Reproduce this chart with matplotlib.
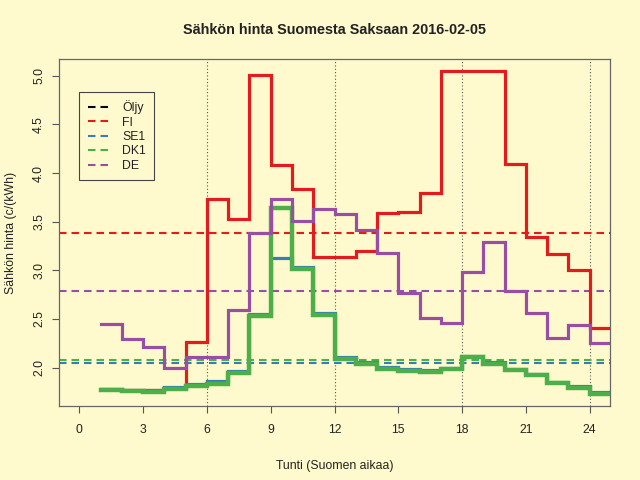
"""Sähkön hinta Suomesta Saksaan 2016-02-05, step chart"""

import numpy as np
import matplotlib
matplotlib.use("Agg")
import matplotlib.pyplot as plt

# section: data
hours = np.arange(1, 25)
fi = [1.78, 1.77, 1.77, 1.79, 2.26, 3.73, 3.53, 5.01, 4.08, 3.84, 3.14, 3.14,
      3.20, 3.59, 3.60, 3.80, 5.05, 5.05, 5.05, 4.09, 3.34, 3.17, 3.00, 2.41]
se1 = [1.784, 1.774, 1.77, 1.805, 1.832, 1.86, 1.966, 2.55, 3.125, 3.036, 2.566, 2.11,
       2.055, 2.004, 1.987, 1.98, 2.00, 2.125, 2.055, 1.987, 1.93, 1.856, 1.81, 1.753]
dk1 = [1.77, 1.757, 1.753, 1.784, 1.81, 1.835, 1.945, 2.53, 3.64, 3.015, 2.545, 2.09,
       2.04, 1.987, 1.97, 1.96, 1.987, 2.105, 2.04, 1.973, 1.92, 1.84, 1.79, 1.73]
de = [2.45, 2.29, 2.21, 2.00, 2.11, 2.11, 2.59, 3.38, 3.73, 3.51, 3.63, 3.58,
      3.42, 3.18, 2.77, 2.51, 2.46, 2.98, 3.29, 2.79, 2.56, 2.30, 2.44, 2.25]
# daily averages (dashed lines)
mean_fi = 3.383
mean_se1 = 2.051
mean_dk1 = 2.079
mean_de = 2.789

legend_labels = ["Öljy", "FI", "SE1", "DK1", "DE"]
xticks = list(range(0, 25, 3))
yticks = [2.0, 2.5, 3.0, 3.5, 4.0, 4.5, 5.0]

BG = "#FFFACD"
COLORS = {"Öljy": "black", "FI": "#E41A1C", "SE1": "#377EB8",
          "DK1": "#4DAF4A", "DE": "#984EA3"}


def main():
    plt.rcParams["font.family"] = ["Liberation Sans", "DejaVu Sans"]
    fig = plt.figure(figsize=(6.4, 4.8), dpi=100, facecolor=BG)
    ax = fig.add_axes([59 / 640, 74 / 480, 551 / 640, 347 / 480], facecolor=BG)

    # section: guides
    for h in (6, 12, 18, 24):
        ax.axvline(h, color="#555555", lw=0.8, ls=(0, (1, 2)), zorder=1)

    dash = (0, (3.6, 2.4))
    for name, m in (("FI", mean_fi), ("SE1", mean_se1), ("DK1", mean_dk1), ("DE", mean_de)):
        ax.axhline(m, color=COLORS[name], lw=1.5, ls=dash, zorder=2)

    # section: step lines
    xs = np.append(hours, hours[-1] + 1)
    for name, vals, lw in (("FI", fi, 2.3), ("SE1", se1, 2.3), ("DK1", dk1, 3.2), ("DE", de, 2.3)):
        ys = np.append(vals, vals[-1])
        ax.step(xs, ys, where="post", color=COLORS[name], lw=lw, zorder=3,
                solid_joinstyle="miter")

    # section: axes
    ax.set_xlim(-0.96, 24.96)
    ax.set_ylim(1.606, 5.173)
    ax.set_xticks(xticks)
    ax.set_yticks(yticks)
    ax.set_yticklabels([f"{v:.1f}" for v in yticks], rotation=90, va="center")
    ax.tick_params(axis="both", length=5, width=0.8, color="#555555",
                   labelsize=8.8, labelcolor="#222222")
    ax.tick_params(axis="x", pad=8)
    ax.tick_params(axis="y", pad=5)
    for s in ax.spines.values():
        s.set_color("#666666")
        s.set_linewidth(0.9)

    ax.set_xlabel("Tunti (Suomen aikaa)", fontsize=8.8, color="#222222")
    ax.xaxis.set_label_coords(0.5, -0.173)
    ax.xaxis.label.set_va("center")
    ax.set_ylabel("Sähkön hinta (c/(kWh)", fontsize=8.8, color="#222222")
    ax.yaxis.set_label_coords(-0.088, 0.5)
    ax.yaxis.label.set_va("center")
    ax.yaxis.label.set_ha("center")

    fig.text(334.5 / 640, 1 - 29.5 / 480, "Sähkön hinta Suomesta Saksaan 2016-02-05",
             ha="center", va="center", fontsize=10.4, fontweight="bold", color="#222222")

    # section: legend
    handles = [plt.Line2D([], [], color=COLORS[n], lw=1.5, ls=dash) for n in legend_labels]
    leg = ax.legend(handles, legend_labels, loc="upper left", bbox_to_anchor=(0.037, 0.906),
                    borderaxespad=0, fontsize=8.8, fancybox=False, framealpha=1,
                    facecolor=BG, edgecolor="#444444", labelspacing=0.2,
                    handlelength=1.8, handletextpad=1.0, borderpad=0.7)
    leg.get_frame().set_linewidth(0.8)
    for t in leg.get_texts():
        t.set_color("#222222")

    fig.savefig("out.png", dpi=100, facecolor=BG)
    plt.close(fig)


if __name__ == "__main__":
    main()
